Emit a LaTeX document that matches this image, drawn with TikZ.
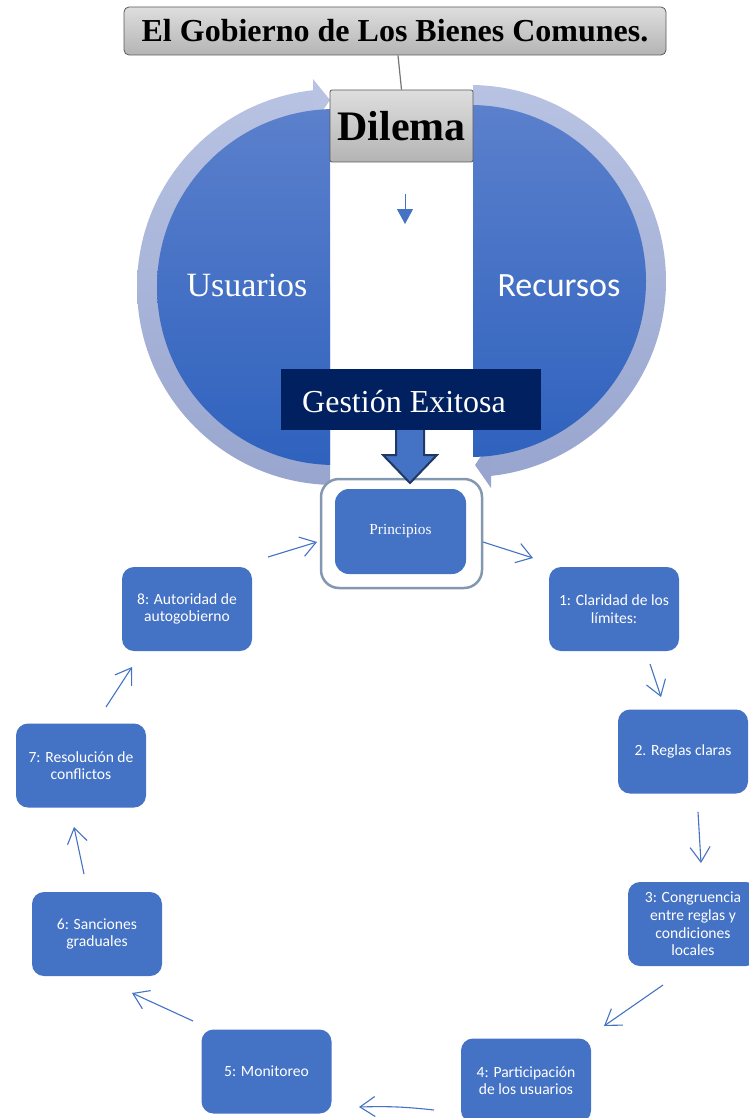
\documentclass[tikz,border=0pt]{standalone}
\usepackage{fontspec}
\setmainfont{Liberation Serif}
\newfontfamily\carl{Carlito}
\usetikzlibrary{arrows.meta}
\definecolor{boxblue}{HTML}{4472C4}
\definecolor{navy}{HTML}{002060}
\definecolor{darkborder}{HTML}{1F3864}
\definecolor{ringtop}{HTML}{B8C3E3}
\definecolor{ringbot}{HTML}{98A5CE}
\definecolor{disktop}{HTML}{5B80CC}
\definecolor{diskbot}{HTML}{2F62BE}
\definecolor{pborder}{HTML}{8497B0}
\definecolor{graytop}{HTML}{DEDEDE}
\definecolor{graybot}{HTML}{B4B4B4}
\begin{document}
\begin{tikzpicture}[x=1pt,y=-1pt,
  stepbox/.style={fill=boxblue, rounded corners=12pt, minimum width=130pt, minimum height=84pt,
    text=white, align=center, inner sep=0pt, font=\carl\fontsize{15.6}{17.6}\selectfont},
  flow/.style={draw=boxblue, line width=1.1pt, -{Straight Barb[length=15pt,width=20pt]}},
  graybox/.style={draw=black!65, line width=0.8pt, top color=graytop, bottom color=graybot, inner sep=0pt},
  bigtext/.style={text=white, font=\fontsize{34}{40}\selectfont, inner sep=0pt}
]
\useasboundingbox (0,0) rectangle (748,1118);

% ---- left circular half (Usuarios) ----
\begin{scope}
  \clip (0,0) rectangle (313,287) (0,287) rectangle (330,620);
  \shade[top color=ringtop, bottom color=ringbot] (335,287) circle [radius=198];
\end{scope}
\fill[ringtop] (313,79) -- (330,100) -- (313,125) -- cycle;
\begin{scope}
  \clip (0,0) rectangle (330,620);
  \shade[top color=disktop, bottom color=diskbot] (335,287) circle [radius=178];
\end{scope}
% ---- right circular half (Recursos) ----
\begin{scope}
  \clip (473,0) rectangle (748,281) (491,281) rectangle (748,620);
  \shade[top color=ringtop, bottom color=ringbot] (470,281) circle [radius=196];
\end{scope}
\fill[ringbot] (491,441) -- (475,465) -- (491,488) -- cycle;
\begin{scope}
  \clip (473,0) rectangle (748,620);
  \shade[top color=disktop, bottom color=diskbot] (470,281) circle [radius=176];
\end{scope}

\node[bigtext, anchor=base] (usu) at (247,296) {Usuarios};
\node[bigtext, anchor=base, font=\carl\fontsize{34}{40}\selectfont] (rec) at (559,296) {Recursos};

% ---- title and dilema ----
\node[graybox, rounded corners=5pt, minimum width=542pt, minimum height=48pt,
      font=\bfseries\fontsize{32}{38}\selectfont] (title) at (395,31) {El Gobierno de Los Bienes Comunes.};
\node[graybox, rounded corners=2pt, minimum width=143pt, minimum height=72pt,
      font=\bfseries\fontsize{42}{48}\selectfont] (dilema) at (401.5,126) {Dilema};
\draw[black!55, line width=1.2pt] ([xshift=3pt]title.south) -- (dilema.north);

% small arrow
\coordinate (sa1) at (405,194);
\coordinate (sa2) at (405,224);
\draw[boxblue, line width=1pt, -{Triangle[length=15pt,width=16pt]}] (sa1) -- (sa2);

% ---- principios ----
\node[draw=pborder, line width=2.5pt, fill=white, rounded corners=18pt,
      minimum width=161pt, minimum height=109pt] (pout) at (401.5,533.5) {};
\node[fill=boxblue, rounded corners=14pt, minimum width=131pt, minimum height=85pt,
      text=white, font=\fontsize{15.3}{18}\selectfont] (princ) at (400.5,531.5) {Principios};

% block arrow
\draw[fill=boxblue, draw=darkborder, line width=2pt, line join=miter]
  (396,428) -- (424,428) -- (424,455) -- (437,455) -- (410,483) -- (383,455) -- (396,455) -- cycle;

% gestion box
\node[fill=navy, minimum width=260pt, minimum height=61pt, inner sep=0pt] (gest) at (411,399.5) {};
\node[text=white, anchor=base, inner sep=0pt, font=\fontsize{32}{38}\selectfont] (gesttxt) at (404,412) {Gestión Exitosa};

% ---- steps ----
\node[stepbox] (b1) at (614,609) {1: Claridad de los\\límites:};
\node[stepbox] (b2) at (683,751.5) {2. Reglas claras};
\node[stepbox] (b3) at (693,924) {3: Congruencia\\entre reglas y\\condiciones\\locales};
\node[stepbox] (b4) at (526,1080.5) {4: Participación\\de los usuarios};
\node[stepbox] (b5) at (266.5,1071.5) {5: Monitoreo};
\node[stepbox] (b6) at (97,934) {6: Sanciones\\graduales};
\node[stepbox] (b7) at (81,765.5) {7: Resolución de\\conflictos};
\node[stepbox] (b8) at (187,609) {8: Autoridad de\\autogobierno};

% ---- connectors ----
\coordinate (a0s) at (483,542);  \coordinate (a0e) at (533,558);
\coordinate (a1s) at (650,664);  \coordinate (a1e) at (661,697);
\coordinate (a2s) at (698,812);  \coordinate (a2e) at (701,863);
\coordinate (a3s) at (663,985);  \coordinate (a3e) at (604,1026);
\coordinate (a4s) at (434,1110); \coordinate (a4e) at (359,1107);
\coordinate (a5s) at (193,1021); \coordinate (a5e) at (132,993);
\coordinate (a6s) at (84,874);   \coordinate (a6e) at (74,827);
\coordinate (a7s) at (106,707);  \coordinate (a7e) at (132,667);
\coordinate (a8s) at (268,557);  \coordinate (a8e) at (317,542);
\draw[flow] (a0s) -- (a0e);
\draw[flow] (a1s) -- (a1e);
\draw[flow] (a2s) -- (a2e);
\draw[flow] (a3s) -- (a3e);
\draw[flow] (a4s) to[bend right=4] (a4e);
\draw[flow] (a5s) -- (a5e);
\draw[flow] (a6s) -- (a6e);
\draw[flow] (a7s) -- (a7e);
\draw[flow] (a8s) -- (a8e);
\end{tikzpicture}
\end{document}
